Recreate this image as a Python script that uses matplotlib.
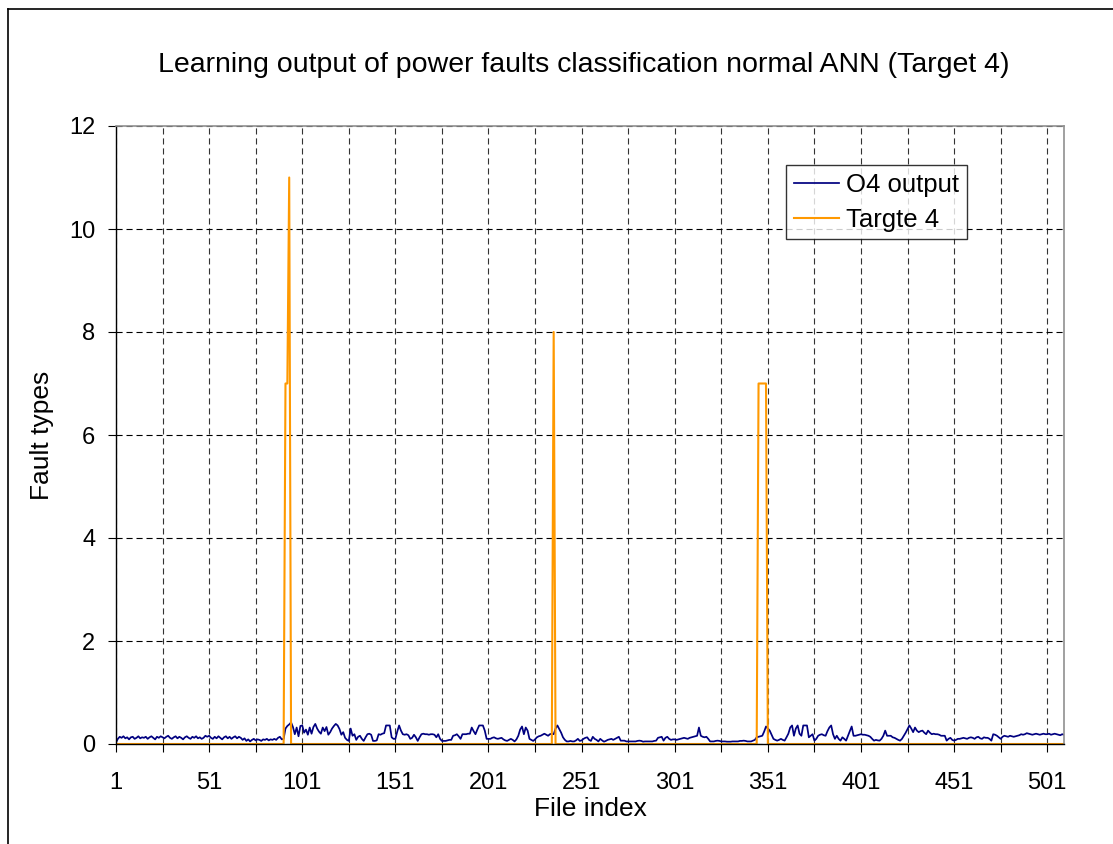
import numpy as np
import matplotlib
matplotlib.use("Agg")
from matplotlib import pyplot as plt
from matplotlib.lines import Line2D

matplotlib.rcParams.update({
    'font.family': ['Liberation Sans', 'DejaVu Sans'],
    'font.size': 17,
})

# file index 1..510
n_files = 510

# O4 output (10 values per row)
o4_output = [
    0.03, 0.10, 0.14, 0.12, 0.15, 0.11, 0.13, 0.09, 0.13, 0.14,
    0.10, 0.12, 0.15, 0.11, 0.13, 0.12, 0.14, 0.10, 0.13, 0.15,
    0.12, 0.09, 0.14, 0.12, 0.15, 0.13, 0.11, 0.14, 0.16, 0.12,
    0.10, 0.13, 0.15, 0.11, 0.14, 0.12, 0.09, 0.13, 0.15, 0.12,
    0.10, 0.14, 0.12, 0.15, 0.11, 0.13, 0.10, 0.12, 0.16, 0.14,
    0.16, 0.12, 0.10, 0.14, 0.11, 0.15, 0.12, 0.09, 0.13, 0.15,
    0.11, 0.14, 0.10, 0.13, 0.15, 0.11, 0.14, 0.12, 0.08, 0.11,
    0.06, 0.09, 0.05, 0.08, 0.10, 0.07, 0.09, 0.08, 0.06, 0.09,
    0.08, 0.10, 0.07, 0.09, 0.08, 0.10, 0.08, 0.12, 0.14, 0.09,
    0.10, 0.30, 0.35, 0.38, 0.42, 0.33, 0.19, 0.32, 0.15, 0.35,
    0.36, 0.22, 0.28, 0.18, 0.32, 0.20, 0.33, 0.39, 0.30, 0.24,
    0.20, 0.32, 0.25, 0.33, 0.18, 0.23, 0.30, 0.35, 0.39, 0.36,
    0.29, 0.18, 0.23, 0.12, 0.08, 0.06, 0.30, 0.16, 0.19, 0.08,
    0.14, 0.16, 0.10, 0.06, 0.13, 0.19, 0.20, 0.18, 0.06, 0.06,
    0.07, 0.19, 0.18, 0.20, 0.21, 0.36, 0.36, 0.36, 0.13, 0.10,
    0.10, 0.24, 0.36, 0.26, 0.19, 0.18, 0.19, 0.17, 0.10, 0.12,
    0.18, 0.13, 0.06, 0.13, 0.19, 0.20, 0.19, 0.19, 0.18, 0.19,
    0.19, 0.18, 0.13, 0.19, 0.10, 0.06, 0.06, 0.06, 0.07, 0.08,
    0.08, 0.16, 0.17, 0.19, 0.15, 0.10, 0.19, 0.19, 0.19, 0.20,
    0.20, 0.32, 0.25, 0.19, 0.28, 0.36, 0.36, 0.36, 0.26, 0.10,
    0.10, 0.10, 0.12, 0.13, 0.11, 0.10, 0.11, 0.12, 0.09, 0.07,
    0.06, 0.08, 0.10, 0.08, 0.05, 0.09, 0.16, 0.28, 0.34, 0.19,
    0.32, 0.26, 0.10, 0.08, 0.06, 0.09, 0.13, 0.15, 0.16, 0.18,
    0.20, 0.18, 0.16, 0.19, 0.20, 0.19, 0.30, 0.36, 0.29, 0.22,
    0.13, 0.08, 0.05, 0.05, 0.06, 0.05, 0.05, 0.07, 0.10, 0.06,
    0.07, 0.10, 0.12, 0.13, 0.08, 0.06, 0.14, 0.10, 0.08, 0.05,
    0.10, 0.07, 0.045, 0.06, 0.08, 0.09, 0.10, 0.08, 0.10, 0.12,
    0.14, 0.065, 0.065, 0.065, 0.05, 0.05, 0.05, 0.05, 0.05, 0.05,
    0.06, 0.065, 0.06, 0.045, 0.05, 0.05, 0.05, 0.05, 0.05, 0.06,
    0.065, 0.12, 0.13, 0.14, 0.065, 0.12, 0.14, 0.10, 0.08, 0.09,
    0.09, 0.08, 0.09, 0.10, 0.11, 0.12, 0.11, 0.10, 0.12, 0.13,
    0.14, 0.15, 0.16, 0.32, 0.16, 0.14, 0.13, 0.14, 0.10, 0.05,
    0.05, 0.05, 0.06, 0.065, 0.06, 0.05, 0.05, 0.05, 0.045, 0.045,
    0.045, 0.05, 0.05, 0.05, 0.05, 0.06, 0.06, 0.065, 0.06, 0.05,
    0.05, 0.05, 0.065, 0.08, 0.13, 0.14, 0.15, 0.16, 0.24, 0.34,
    0.30, 0.26, 0.18, 0.10, 0.08, 0.065, 0.08, 0.10, 0.08, 0.065,
    0.13, 0.20, 0.32, 0.36, 0.16, 0.30, 0.36, 0.20, 0.16, 0.36,
    0.36, 0.36, 0.13, 0.16, 0.19, 0.065, 0.10, 0.16, 0.18, 0.19,
    0.17, 0.16, 0.25, 0.32, 0.36, 0.19, 0.10, 0.16, 0.10, 0.065,
    0.13, 0.10, 0.065, 0.16, 0.25, 0.34, 0.16, 0.16, 0.17, 0.18,
    0.19, 0.18, 0.18, 0.17, 0.16, 0.14, 0.10, 0.065, 0.08, 0.07,
    0.065, 0.10, 0.16, 0.26, 0.16, 0.16, 0.16, 0.13, 0.12, 0.10,
    0.08, 0.065, 0.10, 0.16, 0.22, 0.29, 0.36, 0.30, 0.23, 0.32,
    0.26, 0.23, 0.25, 0.26, 0.22, 0.19, 0.26, 0.22, 0.19, 0.20,
    0.19, 0.19, 0.18, 0.16, 0.16, 0.16, 0.065, 0.10, 0.12, 0.08,
    0.065, 0.08, 0.10, 0.10, 0.11, 0.12, 0.11, 0.10, 0.12, 0.13,
    0.12, 0.10, 0.13, 0.14, 0.11, 0.10, 0.13, 0.12, 0.12, 0.10,
    0.065, 0.19, 0.18, 0.16, 0.13, 0.10, 0.14, 0.16, 0.15, 0.14,
    0.16, 0.15, 0.14, 0.15, 0.16, 0.17, 0.19, 0.18, 0.19, 0.21,
    0.20, 0.19, 0.18, 0.19, 0.20, 0.19, 0.18, 0.19, 0.20, 0.19,
    0.19, 0.20, 0.18, 0.19, 0.20, 0.19, 0.18, 0.17, 0.19, 0.18,
]

# target 4: zero everywhere except these file indices
target_idx = [92, 93, 94, 236, 346, 347, 348, 349, 350]
target_val = [7, 7, 11, 8, 7, 7, 7, 7, 7]

x_labels = [str(v) for v in range(1, 502, 50)]

files = np.arange(1, n_files + 1)
target = np.zeros(n_files)
for i, v in zip(target_idx, target_val):
    target[i - 1] = v

fig = plt.figure(figsize=(11.13, 8.44), dpi=100)
ax = fig.add_axes([116 / 1113, 100 / 844, 948 / 1113, 618 / 844])

ax.plot(files, o4_output, color='#000080', lw=1.25, label='O4 output')
ax.plot(files, target, color='#FF9900', lw=1.5, label='Targte 4')

ax.set_xlim(1, n_files)
ax.set_ylim(0, 12)
ax.set_xticks(range(1, 502, 50))
ax.set_xticklabels(x_labels)
ax.set_xticks(range(26, 502, 50), minor=True)
ax.set_yticks(range(0, 13, 2))

dash = (0, (5.5, 3.5))
ax.grid(True, which='both', axis='x', color='#333333', lw=0.8, linestyle=dash)
ax.grid(True, which='major', axis='y', color='#000000', lw=0.8, linestyle=dash)
ax.set_axisbelow(True)

ax.tick_params(axis='both', which='both', direction='out', length=6, width=0.8,
               labelsize=17, color='black')
ax.tick_params(axis='x', pad=14)
ax.tick_params(axis='y', pad=9)

for side in ['left', 'bottom']:
    ax.spines[side].set_color('black')
    ax.spines[side].set_linewidth(1.0)
for side in ['top', 'right']:
    ax.spines[side].set_color('#909090')
    ax.spines[side].set_linewidth(1.2)

ax.set_xlabel('File index', fontsize=19, labelpad=2)
ax.set_ylabel('Fault types', fontsize=19, labelpad=11)

fig.text(584 / 1113, 1 - 65 / 844,
         'Learning output of power faults classification normal ANN (Target 4)',
         ha='center', va='center', fontsize=20.5)

leg = ax.legend(loc='upper left', bbox_to_anchor=(786 / 1113, 1 - 165 / 844),
                bbox_transform=fig.transFigure, fontsize=18.5, frameon=True,
                fancybox=False, handlelength=1.75, handletextpad=0.3,
                borderpad=0.3, labelspacing=0.42, borderaxespad=0)
leg.get_frame().set_edgecolor('black')
leg.get_frame().set_linewidth(1.0)

# outer chart border (left and top visible)
fig.add_artist(Line2D([8 / 1113, 8 / 1113], [0, 1 - 9 / 844], color='black', lw=1.2,
                      transform=fig.transFigure))
fig.add_artist(Line2D([8 / 1113, 1], [1 - 9 / 844, 1 - 9 / 844], color='black', lw=1.2,
                      transform=fig.transFigure))

fig.savefig('out.png', dpi=100)
